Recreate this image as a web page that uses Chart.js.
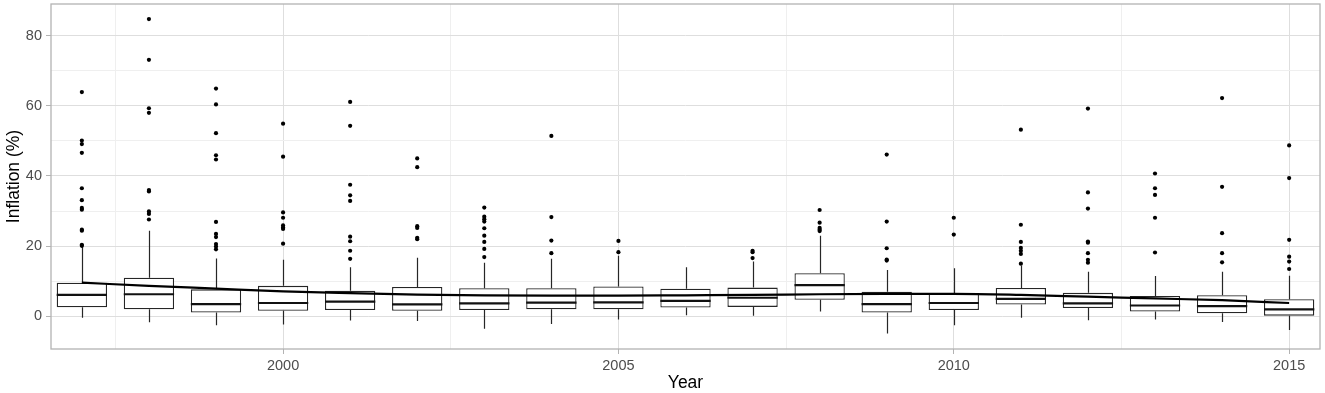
<!DOCTYPE html>
<html>
<head>
<meta charset="utf-8">
<script src="https://cdn.jsdelivr.net/npm/chart.js@4.4.0/dist/chart.umd.min.js"></script>
<style>
html,body{margin:0;padding:0;background:#fff;}
canvas{display:block;}
</style>
</head>
<body>
<canvas id="c" width="1325" height="393"></canvas>
<script>
// ---- data ----
const years = [1997,1998,1999,2000,2001,2002,2003,2004,2005,2006,2007,2008,2009,2010,2011,2012,2013,2014,2015];
const q1 = [2.6, 2.0, 1.1, 1.6, 1.8, 1.6, 1.8, 2.0, 2.0, 2.5, 2.7, 4.7, 1.1, 1.8, 3.4, 2.4, 1.4, 0.9, 0.2];
const medians = [6.1, 6.3, 3.5, 3.8, 4.2, 3.4, 3.7, 3.9, 4.0, 4.4, 5.3, 8.9, 3.5, 3.8, 5.0, 3.7, 3.1, 2.9, 2.0];
const q3 = [9.6, 11.0, 7.7, 8.7, 7.3, 8.4, 8.0, 8.0, 8.5, 7.9, 8.2, 12.3, 7.0, 6.6, 8.1, 6.7, 5.8, 6.0, 4.9];
const whiskerLow = [-0.4, -1.7, -2.5, -2.3, -1.2, -1.3, -3.5, -2.2, -0.9, 0.3, 0.2, 1.4, -4.9, -2.5, -0.4, -1.1, -0.9, -1.6, -3.9];
const whiskerHigh = [20.0, 24.4, 16.5, 16.1, 14.0, 16.7, 15.3, 16.4, 17.3, 14.0, 15.6, 23.0, 13.2, 13.7, 14.5, 12.7, 11.5, 12.7, 11.6];
const outliers = [
  [63.9, 50.1, 49.1, 46.6, 36.5, 33.1, 30.9, 30.4, 24.7, 24.4, 20.4, 20.1],
  [84.7, 73.1, 59.3, 58.0, 36.0, 35.6, 29.9, 29.2, 27.6],
  [64.9, 60.4, 52.2, 45.9, 44.7, 26.9, 23.5, 22.6, 20.6, 19.9, 19.1],
  [54.9, 45.5, 29.6, 28.1, 25.9, 25.3, 24.9, 20.7],
  [61.1, 54.3, 37.5, 34.5, 32.9, 22.7, 21.4, 18.7, 16.4],
  [45.0, 42.5, 25.7, 25.2, 22.4, 22.0],
  [31.0, 28.4, 27.7, 27.0, 25.1, 23.0, 21.2, 19.2, 16.9],
  [51.4, 28.3, 21.6, 18.0],
  [21.5, 18.3],
  [],
  [18.7, 18.3, 16.6],
  [30.3, 26.7, 25.2, 24.7, 24.3],
  [46.1, 27.0, 19.4, 16.2, 15.9],
  [28.1, 23.3],
  [53.2, 26.1, 21.2, 19.5, 18.7, 17.8, 15.0],
  [59.2, 35.3, 30.7, 21.3, 21.0, 18.0, 16.1, 15.3],
  [40.7, 36.5, 34.6, 28.1, 18.2],
  [62.2, 36.9, 23.7, 18.0, 15.4],
  [48.7, 39.4, 21.8, 17.0, 15.6, 13.5]
];
const trend = [9.6, 8.7, 7.9, 7.1, 6.6, 6.2, 6.0, 5.9, 5.9, 6.0, 6.1, 6.3, 6.4, 6.4, 6.1, 5.6, 5.1, 4.6, 3.8];
const xTicks = [1997.5, 2000, 2002.5, 2005, 2007.5, 2010, 2012.5, 2015];
const xLabelTicks = [2000, 2005, 2010, 2015];
const yTicks = [0, 10, 20, 30, 40, 50, 60, 70, 80];
const yLabelTicks = [0, 20, 40, 60, 80];

// ---- styles ----
const FONT = "'Liberation Sans', Arial, Helvetica, sans-serif";
const MAJOR_GRID = '#DEDEDE';
const MINOR_GRID = '#EFEFEF';
const BORDER = '#B3B3B3';
const BOX_LINE = '#262626';

const boxParts = {
  id: 'boxParts',
  beforeDatasetsDraw(chart) {
    const {ctx, scales: {x, y}} = chart;
    ctx.save();
    ctx.strokeStyle = BOX_LINE;
    ctx.lineWidth = 1.2;
    years.forEach((yr, i) => {
      const px = Math.round(x.getPixelForValue(yr)) + 0.5;
      ctx.beginPath();
      ctx.moveTo(px, y.getPixelForValue(q3[i]));
      ctx.lineTo(px, y.getPixelForValue(whiskerHigh[i]));
      ctx.moveTo(px, y.getPixelForValue(q1[i]));
      ctx.lineTo(px, y.getPixelForValue(whiskerLow[i]));
      ctx.stroke();
    });
    ctx.restore();
  },
  afterDatasetDraw(chart, args) {
    if (args.meta.type !== 'bar') return;
    const {ctx, scales: {y}} = chart;
    ctx.save();
    ctx.strokeStyle = '#111';
    ctx.lineWidth = 2.2;
    args.meta.data.forEach((el, i) => {
      const py = y.getPixelForValue(medians[i]);
      ctx.beginPath();
      ctx.moveTo(el.x - el.width / 2, py);
      ctx.lineTo(el.x + el.width / 2, py);
      ctx.stroke();
    });
    ctx.restore();
  },
  afterDraw(chart) {
    const {ctx, chartArea: a} = chart;
    ctx.save();
    ctx.strokeStyle = BORDER;
    ctx.lineWidth = 1.3;
    ctx.strokeRect(a.left, a.top, a.right - a.left, a.bottom - a.top);
    ctx.restore();
  }
};

const outlierPoints = [];
years.forEach((yr, i) => outliers[i].forEach(v => outlierPoints.push({x: yr, y: v})));

function noPad(s) {
  s.paddingTop = 0; s.paddingBottom = 0; s.paddingLeft = 0; s.paddingRight = 0;
}

new Chart(document.getElementById('c'), {
  type: 'bar',
  data: {
    datasets: [
      {
        type: 'line',
        data: years.map((yr, i) => ({x: yr, y: trend[i]})),
        borderColor: '#000',
        borderWidth: 2.2,
        pointRadius: 0,
        cubicInterpolationMode: 'monotone',
        fill: false,
        order: 0
      },
      {
        type: 'scatter',
        data: outlierPoints,
        pointRadius: 2.1,
        pointBackgroundColor: '#000',
        pointBorderWidth: 0,
        order: 1
      },
      {
        type: 'bar',
        data: years.map((yr, i) => ({x: yr, y: [q1[i], q3[i]]})),
        backgroundColor: '#ffffff',
        borderColor: BOX_LINE,
        borderWidth: 1.3,
        borderSkipped: false,
        barPercentage: 0.75,
        categoryPercentage: 1,
        order: 2
      }
    ]
  },
  options: {
    responsive: false,
    animation: false,
    devicePixelRatio: 1,
    layout: {padding: {top: 4, right: 5, left: 0, bottom: 0}},
    plugins: {legend: {display: false}, tooltip: {enabled: false}},
    scales: {
      x: {
        type: 'linear',
        min: 1996.54,
        max: 2015.46,
        offset: false,
        afterBuildTicks: s => { s.ticks = xTicks.map(v => ({value: v})); },
        afterFit: s => { s.height = 44; noPad(s); },
        border: {display: false},
        grid: {
          offset: false,
          color: c => xLabelTicks.includes(c.tick.value) ? MAJOR_GRID : MINOR_GRID,
          lineWidth: 1,
          tickLength: 5,
          tickColor: c => xLabelTicks.includes(c.tick.value) ? BORDER : 'rgba(0,0,0,0)'
        },
        ticks: {
          autoSkip: false,
          maxRotation: 0,
          padding: 3,
          color: '#4D4D4D',
          font: {family: FONT, size: 14.5},
          callback: v => xLabelTicks.includes(v) ? String(v) : ''
        },
        title: {
          display: true,
          text: 'Year',
          color: '#000',
          font: {family: FONT, size: 17.5},
          padding: {top: 0, bottom: -1}
        }
      },
      y: {
        type: 'linear',
        min: -9.3,
        max: 89,
        afterBuildTicks: s => { s.ticks = yTicks.map(v => ({value: v})); },
        afterFit: s => { s.width = 51; noPad(s); },
        border: {display: false},
        grid: {
          color: c => yLabelTicks.includes(c.tick.value) ? MAJOR_GRID : MINOR_GRID,
          lineWidth: 1,
          tickLength: 5,
          tickColor: c => yLabelTicks.includes(c.tick.value) ? BORDER : 'rgba(0,0,0,0)'
        },
        ticks: {
          autoSkip: false,
          padding: 4,
          color: '#4D4D4D',
          font: {family: FONT, size: 14.5},
          callback: v => yLabelTicks.includes(v) ? String(v) : ''
        },
        title: {
          display: true,
          text: 'Inflation (%)',
          color: '#000',
          font: {family: FONT, size: 17.5},
          padding: {top: 4, bottom: 0}
        }
      }
    }
  },
  plugins: [boxParts]
});
</script>
</body>
</html>
